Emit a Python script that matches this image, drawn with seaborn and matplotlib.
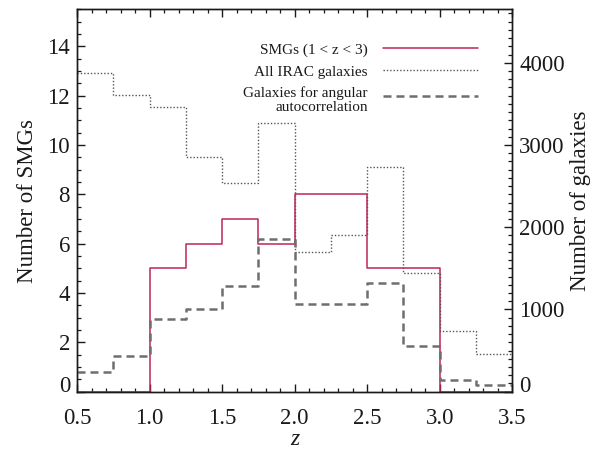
import numpy as np
import pandas as pd
import matplotlib
matplotlib.use("Agg")
import matplotlib.pyplot as plt
import seaborn as sns
from matplotlib.ticker import MultipleLocator

# ---- data ----
bin_edges = [0.5, 0.75, 1.0, 1.25, 1.5, 1.75, 2.0, 2.25, 2.5, 2.75, 3.0, 3.25, 3.5]
smg_counts = [0, 0, 5, 6, 7, 6, 8, 8, 5, 5, 0, 0]
irac_counts = [3880, 3608, 3458, 2850, 2541, 3271, 1695, 1905, 2736, 1447, 738, 455]
autocorr_counts = [236, 438, 880, 1002, 1289, 1853, 1063, 1063, 1318, 559, 146, 78]
legend_labels = ["SMGs (1 < z < 3)", "All IRAC galaxies",
                 "Galaxies for angular\nautocorrelation"]
x_ticks = [0.5, 1.0, 1.5, 2.0, 2.5, 3.0, 3.5]
left_ticks = [0, 2, 4, 6, 8, 10, 12, 14]
right_ticks = [0, 1000, 2000, 3000, 4000]

edges = np.array(bin_edges)
centers = (edges[:-1] + edges[1:]) / 2

sns.set_style("ticks")
plt.rcParams["font.family"] = ["Liberation Serif", "DejaVu Serif"]

ink = "#1a1a1a"
crimson = "#C0245A"

fig = plt.figure(figsize=(5.96, 4.49), dpi=100)
ax = fig.add_axes([0.1292, 0.1276, 0.7304, 0.8517])
ax2 = ax.twinx()

sns.histplot(x=centers, weights=smg_counts, bins=bin_edges, element="step",
             fill=False, color=crimson, linewidth=1.1, ax=ax)
sns.histplot(x=centers, weights=irac_counts, bins=bin_edges, element="step",
             fill=False, color="#555555", linewidth=1.0,
             linestyle=(0, (1, 1.4)), ax=ax2)
sns.histplot(x=centers, weights=autocorr_counts, bins=bin_edges, element="step",
             fill=False, color="#6e6e6e", linewidth=1.8,
             linestyle=(0, (3.2, 2.0)), ax=ax2)

ax.set_xlim(0.5, 3.5)
ax.set_ylim(0, 15.5)
ax2.set_ylim(0, 4650)

ax.set_xticks(x_ticks)
ax.set_xticklabels([f"{t:.1f}" for t in x_ticks])
ax.xaxis.set_minor_locator(MultipleLocator(0.1))
ax.set_yticks(left_ticks)
ax.yaxis.set_minor_locator(MultipleLocator(0.5))
ax2.set_yticks(right_ticks)
ax2.yaxis.set_minor_locator(MultipleLocator(100))

tick_fs = 16.5
ax.tick_params(axis="x", which="both", direction="in", top=True, bottom=True,
               labelsize=tick_fs, pad=11.5, colors=ink)
ax.tick_params(axis="y", which="both", direction="in", left=True, right=False,
               labelsize=tick_fs, pad=5, colors=ink)
ax2.tick_params(axis="y", which="both", direction="in", left=False, right=True,
                labelsize=tick_fs, pad=5, colors=ink)
for a in (ax, ax2):
    a.tick_params(which="major", length=5.5, width=1.0)
    a.tick_params(which="minor", length=3.2, width=0.9)
    for s in a.spines.values():
        s.set_color(ink)
        s.set_linewidth(1.0)

ax.get_yticklabels()[0].set_va("baseline")
ax2.get_yticklabels()[0].set_va("baseline")

ax.set_xlabel("z", fontsize=17, fontstyle="italic", color=ink, labelpad=0.5)
ax.set_ylabel("Number of SMGs", fontsize=16.5, color=ink, labelpad=7)
ax2.set_ylabel("Number of galaxies", fontsize=16.5, color=ink, labelpad=4)

handles = [ax.lines[0], ax2.lines[0], ax2.lines[1]]
leg = ax2.legend(handles, legend_labels, loc="upper right",
                 bbox_to_anchor=(0.921, 0.912), frameon=False, markerfirst=False,
                 fontsize=11, handlelength=6.2, handletextpad=1.0,
                 labelspacing=0.53, borderpad=0, borderaxespad=0)
for t in leg.get_texts():
    t.set_color(ink)
t3 = leg.get_texts()[2]
t3.set_linespacing(1.05)
t3.set_multialignment("right")
h3 = leg.legend_handles[2]
h3.set_ydata(np.asarray(h3.get_ydata(), dtype=float) + 3.0)

fig.savefig("out.png", dpi=100)
